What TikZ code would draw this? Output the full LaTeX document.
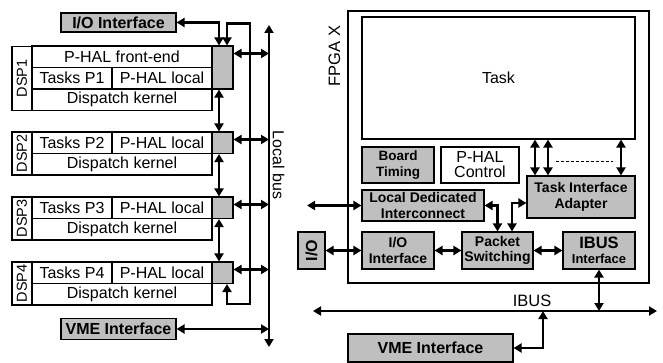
\documentclass[tikz,border=0pt]{standalone}
\usepackage{fontspec}
\setmainfont{Liberation Sans}
\usepackage{tikz}
\usetikzlibrary{shapes,arrows.meta}
\tikzstyle{cell} = [rectangle, draw, line width=1.1pt, inner sep=0pt, text centered, font=\fontsize{16}{18}\selectfont]
\tikzstyle{grey} = [cell, fill=gray!50]
\tikzstyle{tag} = [cell, rotate=90, font=\fontsize{14.5}{16}\selectfont]
\tikzstyle{gblock} = [grey, align=center, font=\bfseries\fontsize{14}{15.5}\selectfont]
\tikzstyle{line} = [draw, line width=2.2pt, >={Triangle[length=8pt,width=9pt]}, <->]

\begin{document}
\begin{tikzpicture}[x=1pt, y=-1pt]
\useasboundingbox (0,0) rectangle (663,363);
% DSP side
\node [gblock, font=\bfseries\fontsize{16}{18}\selectfont, minimum width=115pt, minimum height=19pt] (ioL) at (118.5,22.5) {I/O Interface};
\node [tag, minimum width=64pt, minimum height=20pt] (dsp1) at (22,78.25) {DSP1};
\node [cell, minimum width=180pt, minimum height=21.5pt] (front1) at (122,56.75) {P-HAL front-end};
\node [cell, minimum width=80pt, minimum height=21.5pt] (tasks1) at (72,78.25) {Tasks P1};
\node [cell, minimum width=100pt, minimum height=21.5pt] (local1) at (162,78.25) {P-HAL local};
\node [cell, minimum width=180pt, minimum height=21.5pt] (kernel1) at (122,99.75) {Dispatch kernel};
\node [grey, minimum width=21pt, minimum height=43pt] (gray1) at (222.5,67.5) {};
\node [tag, minimum width=43pt, minimum height=20pt] (dsp2) at (22,153.5) {DSP2};
\node [cell, minimum width=80pt, minimum height=21.5pt] (tasks2) at (72,142.75) {Tasks P2};
\node [cell, minimum width=100pt, minimum height=21.5pt] (local2) at (162,142.75) {P-HAL local};
\node [cell, minimum width=180pt, minimum height=21.5pt] (kernel2) at (122,164.25) {Dispatch kernel};
\node [grey, minimum width=21pt, minimum height=21.5pt] (gray2) at (222.5,142.75) {};
\node [tag, minimum width=43pt, minimum height=20pt] (dsp3) at (22,218.5) {DSP3};
\node [cell, minimum width=80pt, minimum height=21.5pt] (tasks3) at (72,207.75) {Tasks P3};
\node [cell, minimum width=100pt, minimum height=21.5pt] (local3) at (162,207.75) {P-HAL local};
\node [cell, minimum width=180pt, minimum height=21.5pt] (kernel3) at (122,229.25) {Dispatch kernel};
\node [grey, minimum width=21pt, minimum height=21.5pt] (gray3) at (222.5,207.75) {};
\node [tag, minimum width=43pt, minimum height=20pt] (dsp4) at (22,283.5) {DSP4};
\node [cell, minimum width=80pt, minimum height=21.5pt] (tasks4) at (72,272.75) {Tasks P4};
\node [cell, minimum width=100pt, minimum height=21.5pt] (local4) at (162,272.75) {P-HAL local};
\node [cell, minimum width=180pt, minimum height=21.5pt] (kernel4) at (122,294.25) {Dispatch kernel};
\node [grey, minimum width=21pt, minimum height=21.5pt] (gray4) at (222.5,272.75) {};
\node [gblock, font=\bfseries\fontsize{16}{18}\selectfont, minimum width=115pt, minimum height=21pt] (vmeL) at (118.5,329) {VME Interface};
\coordinate (lbtop) at (269,25);
\coordinate (lbbot) at (269,347);
\coordinate (looptop) at (250,23.5);
\coordinate (loopbot) at (250,304);
\node [rotate=-90, font=\fontsize{16}{18}\selectfont] (lbus) at (278.5,165) {Local bus};
\path [line] (lbbot) -- (lbtop);
\path [line] (ioL.east) -| ([xshift=-3.5pt]gray1.north);
\path [line] ([xshift=4.5pt]gray1.north) |- (looptop) -- (loopbot) -| ([xshift=4.5pt]gray4.south);
\path [line] ([xshift=-3.5pt]gray1.south) -- ([xshift=-3.5pt]gray2.north);
\path [line] ([xshift=-3.5pt]gray2.south) -- ([xshift=-3.5pt]gray3.north);
\path [line] ([xshift=-3.5pt]gray3.south) -- ([xshift=-3.5pt]gray4.north);
\path [line] (gray1.east |- 0,53.5) -- (lbtop |- 0,53.5);
\path [line] (gray2.east |- 0,139.5) -- (lbtop |- 0,139.5);
\path [line] (gray3.east |- 0,204.5) -- (lbtop |- 0,204.5);
\path [line] (gray4.east |- 0,269.5) -- (lbtop |- 0,269.5);
\path [line] (vmeL.east) -- (lbtop |- vmeL.east);
% FPGA side
\node [draw, line width=1.2pt, fill=white, minimum width=301pt, minimum height=272pt, inner sep=0pt] (fpga) at (498.5,147) {};
\node [rotate=90, font=\fontsize{16.5}{18}\selectfont] (fpgax) at (334.5,56) {FPGA X};
\node [cell, minimum width=273pt, minimum height=122pt] (task) at (498.5,78) {Task};
\node [gblock, font=\bfseries\fontsize{13.5}{16}\selectfont, minimum width=72pt, minimum height=36pt] (timing) at (398,165) {Board\\Timing};
\node [cell, align=center, font=\fontsize{16}{15}\selectfont, minimum width=78pt, minimum height=36pt] (control) at (480,165) {P-HAL\\Control};
\node [gblock, minimum width=108pt, minimum height=42pt] (tia) at (581,197) {Task Interface\\Adapter};
\node [gblock, minimum width=122pt, minimum height=31pt] (ldi) at (423,205.5) {Local Dedicated\\Interconnect};
\node [gblock, minimum width=72pt, minimum height=37pt] (ioin) at (398,250.5) {I/O\\Interface};
\node [gblock, minimum width=71pt, minimum height=37pt] (switch) at (497.5,250.5) {Packet\\Switching};
\node [gblock, minimum width=72pt, minimum height=37pt] (ibusif) at (599,250.5) {{\fontsize{16.5}{16}\selectfont IBUS}\\{\fontsize{13}{16}\selectfont Interface}};
\node [gblock, rotate=90, font=\bfseries\fontsize{16}{18}\selectfont, minimum width=37pt, minimum height=27pt] (io) at (311.5,250.5) {I/O};
\node [gblock, font=\bfseries\fontsize{16}{18}\selectfont, minimum width=165pt, minimum height=28pt] (vmeR) at (430.5,348) {VME Interface};
\coordinate (ldifree) at (307,205.5);
\coordinate (ibl) at (313,311);
\coordinate (ibr) at (657,311);
\coordinate (vmetap) at (543,311);
\node [font=\fontsize{16.5}{18}\selectfont] (ibuslabel) at (532,301) {IBUS};
\foreach \x in {535,548,621}
  \path [line] (task.south -| \x,0) -- (tia.north -| \x,0);
\draw [line width=0.8pt, dash pattern=on 3pt off 2pt] (556,161) -- (613,161);
\path [line] (ldifree) -- (ldi.west);
\path [line] (ldi.east) -| (switch.north);
\path [line] (tia.west |- 0,203) -| ([xshift=14.5pt]switch.north);
\path [line] (io) -- (ioin);
\path [line] (ioin) -- (switch);
\path [line] (switch) -- (ibusif);
\path [line] (ibl) -- (ibr);
\path [line] (ibusif.south) -- (ibusif.south |- ibl);
\path [line] (vmeR.east) -| (vmetap);
\end{tikzpicture}
\end{document}
